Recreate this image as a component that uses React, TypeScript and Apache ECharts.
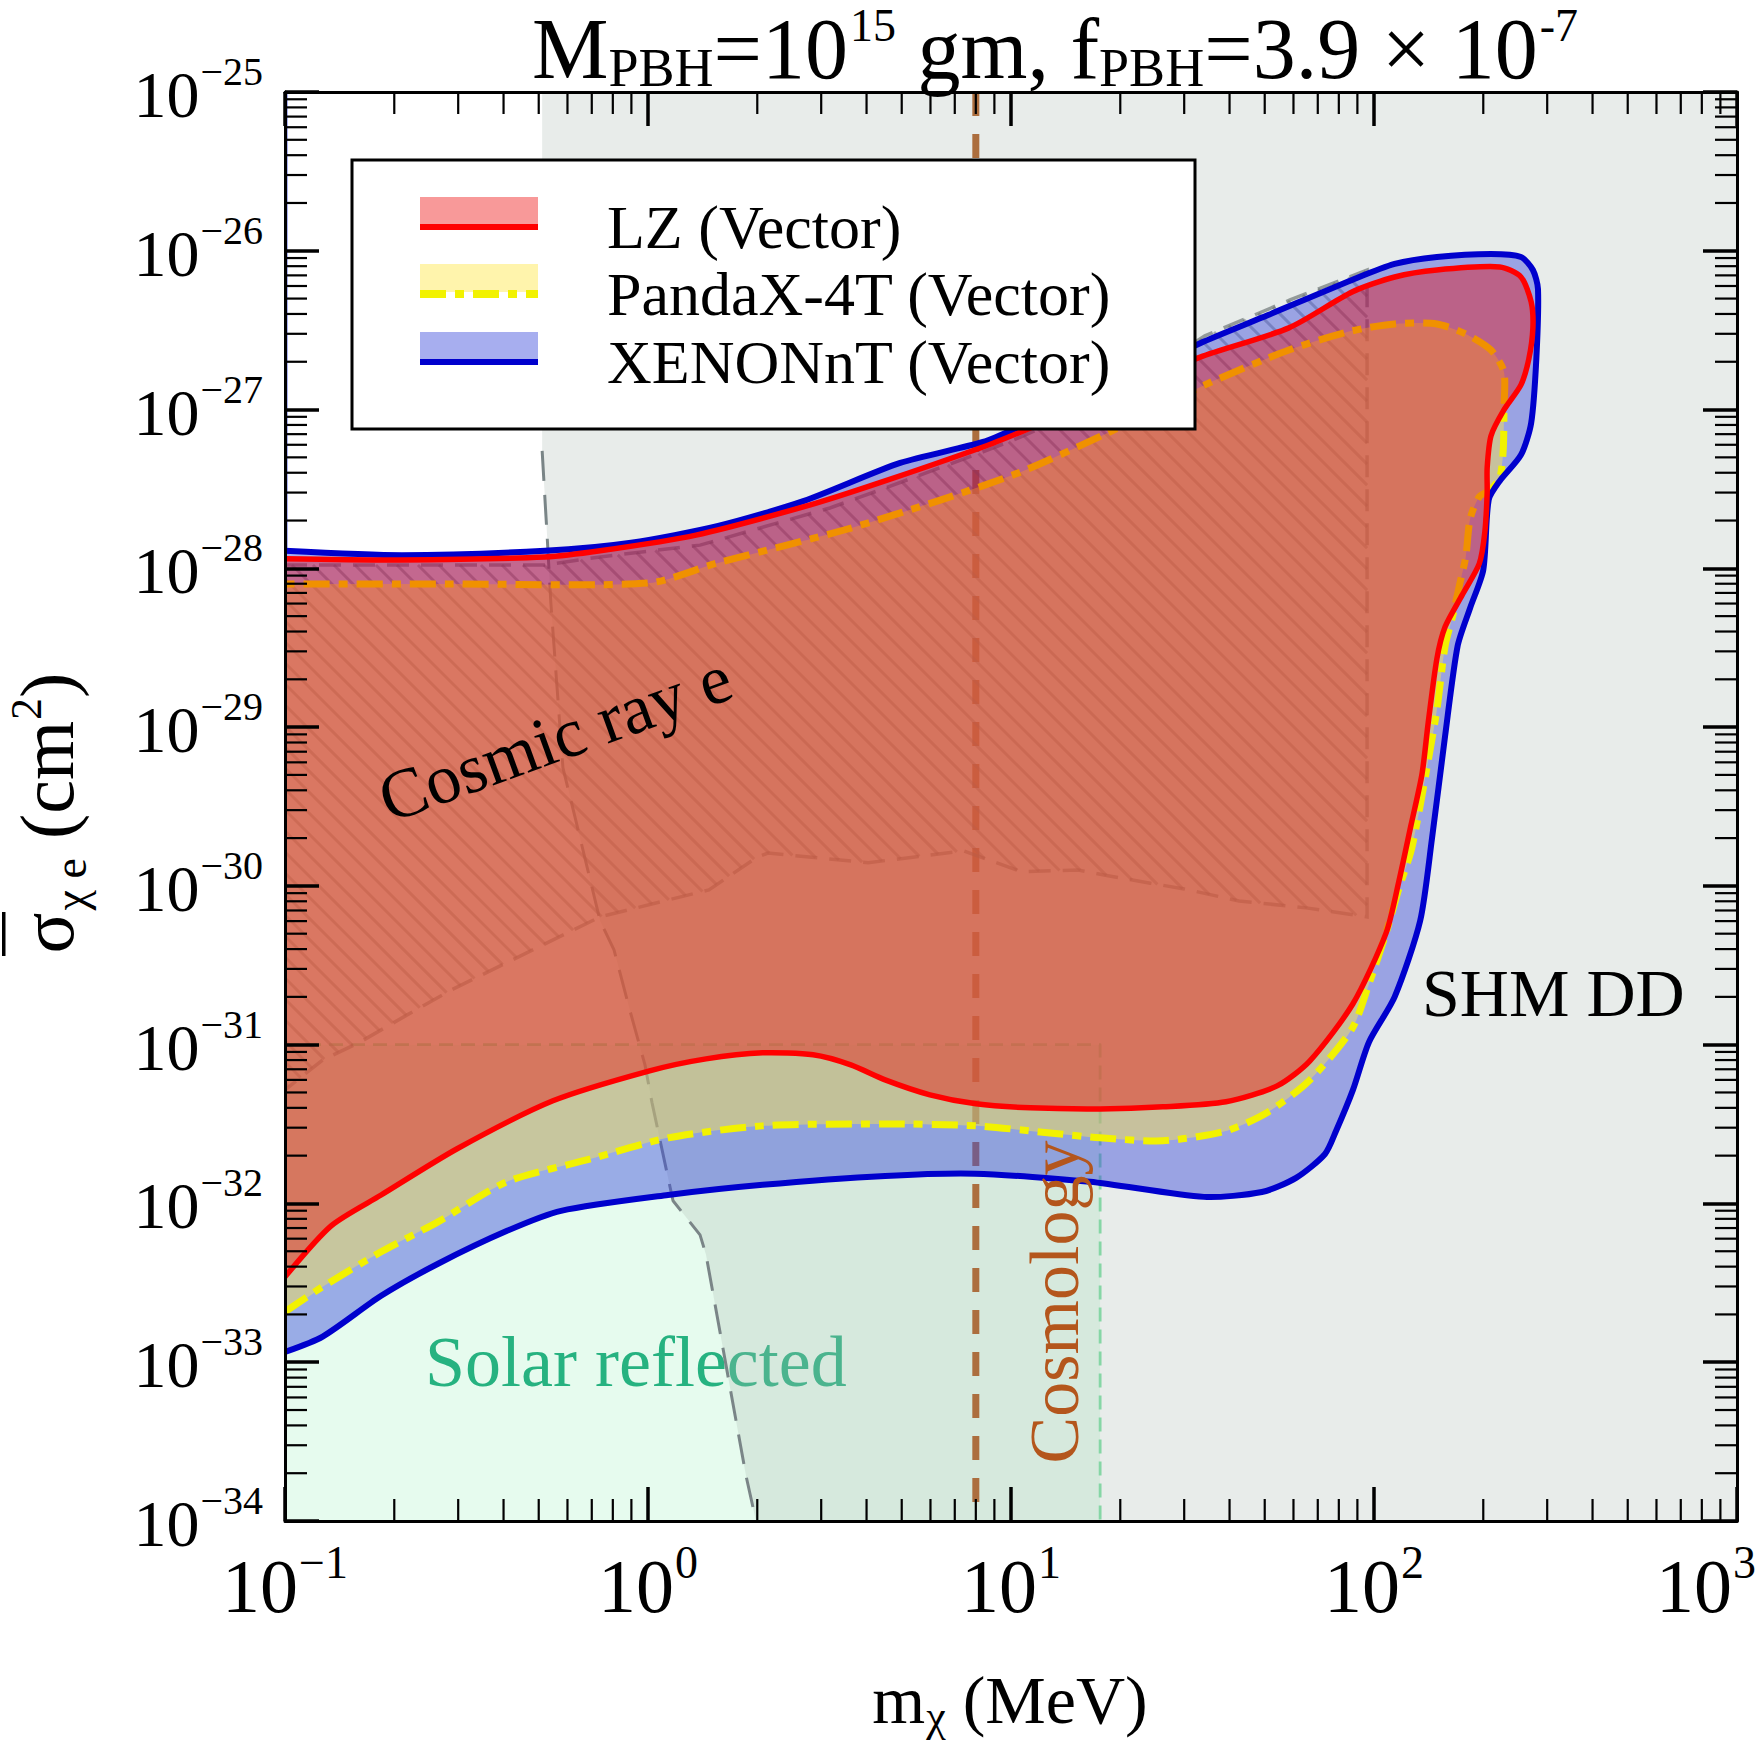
import React, { useEffect, useRef } from 'react';
import * as echarts from 'echarts';

type Pt = [number, number]; // [m_chi in MeV, sigma_e in cm^2]

const FONT = '"Liberation Serif", "Times New Roman", serif';
const NB = '\u00a0';

// Axis decades (log10 of the values) and log minor-tick multipliers
const massDecades = [-1, 0, 1, 2, 3];
const sigmaDecades = [-34, -33, -32, -31, -30, -29, -28, -27, -26, -25];
const minorMultipliers = [2, 3, 4, 5, 6, 7, 8, 9];

// XENONnT (Vector) excluded region boundary
const xenonContour: Pt[] = [
  [0.1, 1.16e-33], [0.127, 1.45e-33], [0.184, 2.62e-33], [0.264, 4.17e-33], [0.409, 6.72e-33],
  [0.576, 8.98e-33], [1.135, 1.13e-32], [2.07, 1.31e-32], [4.5, 1.49e-32], [7.96, 1.54e-32],
  [16.5, 1.37e-32], [34.0, 1.1e-32], [49.1, 1.18e-32], [61.0, 1.45e-32], [73.3, 2.05e-32],
  [78.6, 2.86e-32], [87.5, 5.19e-32], [96.9, 1.04e-31], [114, 2.0e-31], [134, 6.02e-31],
  [144.5, 2.0e-30], [157, 8.8e-30], [170, 3.25e-29], [184, 5.63e-29], [200, 9.77e-29],
  [207, 2.7e-28], [222, 3.55e-28], [254, 5.18e-28], [271, 8.24e-28], [280, 2.08e-27],
  [283, 5.74e-27], [274, 7.57e-27], [254, 9.14e-27], [210, 9.55e-27], [149, 9.14e-27],
  [114, 8.26e-27], [87.0, 6.55e-27], [51.1, 3.94e-27], [33.2, 2.62e-27], [17.6, 1.33e-27],
  [10.65, 7.88e-28], [8.37, 6.25e-28], [4.95, 4.61e-28], [2.69, 2.66e-28], [1.56, 1.85e-28],
  [0.898, 1.45e-28], [0.52, 1.29e-28], [0.21, 1.21e-28], [0.1, 1.29e-28],
];
// thin sliver of the XENONnT region running up the lowest-mass edge
const xenonEdge: Pt[] = [[0.1, 1.29e-28], [0.1019, 1.29e-28], [0.1019, 1e-25], [0.1, 1e-25]];

// LZ (Vector) excluded region boundary
const lzContour: Pt[] = [
  [0.1, 3.45e-33], [0.134, 7.23e-33], [0.184, 1.13e-32], [0.298, 2.21e-32], [0.547, 4.43e-32],
  [1.01, 6.84e-32], [1.445, 8.14e-32], [2.07, 8.88e-32], [2.85, 8.63e-32], [3.62, 7.46e-32],
  [4.5, 6.0e-32], [5.98, 4.83e-32], [8.01, 4.24e-32], [11.3, 4.0e-32], [17.6, 3.94e-32],
  [26.2, 4.06e-32], [39.1, 4.37e-32], [54.1, 5.5e-32], [66.6, 7.91e-32], [87.5, 1.81e-31],
  [108, 5.06e-31], [117, 1.06e-30], [126.5, 2.42e-30], [135.6, 5.07e-30], [141, 1.06e-29],
  [149, 2.69e-29], [157, 4.28e-29], [175, 6.8e-29], [195, 1.07e-28], [202, 1.69e-28],
  [205, 2.99e-28], [205, 4.29e-28], [210, 6.82e-28], [228, 9.94e-28], [254, 1.43e-27],
  [267, 2.08e-27], [274, 3.27e-27], [271, 4.76e-27], [254, 6.84e-27], [222, 7.91e-27],
  [149, 7.57e-27], [114, 6.84e-27], [87.0, 5.5e-27], [58.3, 3.27e-27], [33.2, 2.14e-27],
  [17.6, 1.17e-27], [10.65, 7.23e-28], [8.37, 5.81e-28], [4.33, 3.45e-28], [2.8, 2.51e-28],
  [1.356, 1.62e-28], [0.738, 1.29e-28], [0.52, 1.18e-28], [0.207, 1.13e-28], [0.1, 1.15e-28],
];

// PandaX-4T (Vector) excluded region boundary
const pandaxContour: Pt[] = [
  [0.1, 2.08e-33], [0.127, 2.99e-33], [0.184, 4.96e-33], [0.264, 7.66e-33], [0.409, 1.37e-32],
  [0.697, 1.91e-32], [1.135, 2.59e-32], [2.07, 3.08e-32], [4.5, 3.17e-32], [8.01, 3.08e-32],
  [12.8, 2.78e-32], [17.6, 2.59e-32], [26.2, 2.48e-32], [39.1, 2.86e-32], [51.1, 3.77e-32],
  [66.6, 6.0e-32], [87.0, 1.26e-31], [96.9, 2.42e-31], [108, 5.06e-31], [117, 9.57e-31],
  [126.5, 1.66e-30], [134, 3.19e-30], [141, 6.13e-30], [149, 1.28e-29], [157, 3.25e-29],
  [165, 5.09e-29], [172.5, 8.09e-29], [179, 1.18e-28], [184, 2.05e-28], [195, 2.82e-28],
  [209, 3.12e-28], [222, 3.71e-28], [227, 5.57e-28], [228, 9.94e-28], [228, 1.73e-27],
  [210, 2.37e-27], [179, 2.99e-27], [149, 3.46e-27], [114, 3.46e-27], [87.0, 3.13e-27],
  [58.3, 2.37e-27], [34.2, 1.43e-27], [18.2, 7.02e-28], [10.65, 4.05e-28], [6.54, 2.74e-28],
  [3.49, 1.75e-28], [1.53, 1.07e-28], [1.01, 8.09e-29], [0.285, 7.98e-29], [0.1, 7.98e-29],
];

// Lower-mass edge of the SHM direct-detection region
const shmTopMass = 0.511;
const shmEdge: Pt[] = [
  [0.511, 5.49e-28], [0.53, 1.31e-28], [0.54, 6.05e-29], [0.583, 5.54e-30], [0.637, 2.42e-30],
  [0.738, 6.02e-31], [0.806, 3.95e-31], [0.886, 1.73e-31], [0.981, 7.46e-32], [1.026, 4.3e-32],
  [1.15, 1.27e-32], [1.172, 1.04e-32], [1.391, 6.34e-33], [1.445, 4.75e-33], [1.862, 1.93e-34],
  [1.984, 1e-34],
];

// Cosmic-ray boosted electron bound (hatched region)
const cosmicRayRegion: Pt[] = [
  [0.1, 1.05e-28], [0.52, 1.05e-28], [0.738, 1.18e-28], [1.391, 1.4e-28], [3.17, 2.4e-28],
  [4.36, 3.12e-28], [8.37, 5.41e-28], [10.65, 6.72e-28], [17.6, 1.12e-27], [34.2, 2.91e-27],
  [58.7, 4.9e-27], [95.7, 7.57e-27], [95.7, 6.38e-31], [65.0, 7.27e-31], [42.5, 8.04e-31],
  [30.0, 9.57e-31], [24.2, 1.04e-30], [18.5, 1.16e-30], [15.3, 1.26e-30], [10.65, 1.23e-30],
  [7.42, 1.66e-30], [4.04, 1.4e-30], [2.14, 1.61e-30], [2.0, 1.52e-30], [1.472, 9.44e-31],
  [0.738, 6.38e-31], [0.494, 4.07e-31], [0.287, 2.21e-31], [0.217, 1.54e-31], [0.16, 1.03e-31],
  [0.127, 8.02e-32], [0.1, 5.19e-32],
];

// Solar-reflected DM bound and cosmology bound
const solarMaxMass = 17.6;
const solarMaxSigma = 1e-31;
const cosmologyMass = 8.0;

const massRange: Pt = [0.1, 1000];
const sigmaRange: Pt = [1e-34, 1e-25];

const legendLabels = ['LZ (Vector)', 'PandaX-4T (Vector)', 'XENONnT (Vector)'];

// colours
const BLUE_FILL = 'rgba(60,75,220,0.45)';
const YELLOW_FILL = 'rgba(255,230,70,0.45)';
const RED_FILL = 'rgba(238,0,0,0.4)';
const BLUE_LINE = '#0000cd';
const RED_LINE = '#ff0000';
const YELLOW_LINE = '#f2f200';
const YELLOW_DASH = [26, 9, 9, 9];

const toLog = (p: Pt) => [Math.log10(p[0]), Math.log10(p[1])];
const anchor = [[0, -30]];

// Contours that start and end on the lowest-mass edge are closed just outside
// the plot so that the smoothed outline keeps its shape near that edge.
const closeOffLeft = (pts: Pt[]): Pt[] => [
  ...pts,
  [massRange[0] * 0.8, pts[pts.length - 1][1]],
  [massRange[0] * 0.8, pts[0][1]],
];

function areaSeries(id: string, pts: Pt[], fill: string, z: number, smooth = 0) {
  return {
    type: 'custom', id, coordinateSystem: 'cartesian2d', clip: true, silent: true, z,
    data: anchor,
    renderItem: (_p: any, api: any) => ({
      type: 'polygon',
      shape: { points: pts.map((p) => api.coord(toLog(p))), smooth },
      style: { fill, stroke: 'none' },
    }),
  };
}

function curveSeries(id: string, pts: Pt[], stroke: string, lineWidth: number, z: number,
  smooth = 0, lineDash?: number[]) {
  return {
    type: 'custom', id, coordinateSystem: 'cartesian2d', clip: true, silent: true, z,
    data: anchor,
    renderItem: (_p: any, api: any) => ({
      type: 'polyline',
      shape: { points: pts.map((p) => api.coord(toLog(p))), smooth },
      style: { fill: 'none', stroke, lineWidth, lineDash: lineDash || null, lineJoin: 'round' },
    }),
  };
}

// hatched cosmic-ray region: diagonal lines clipped to the polygon
const hatchSeries = {
  type: 'custom', id: 'cosmicRay', coordinateSystem: 'cartesian2d', clip: true, silent: true, z: 5,
  data: anchor,
  renderItem: (_p: any, api: any) => {
    const poly: number[][] = cosmicRayRegion.map((p) => api.coord(toLog(p)));
    const step = 21;
    const cs = poly.map(([x, y]) => y - x);
    const cMin = Math.min(...cs);
    const cMax = Math.max(...cs);
    const children: any[] = [];
    for (let c = Math.ceil(cMin / step) * step; c <= cMax; c += step) {
      const xs: number[] = [];
      for (let i = 0; i < poly.length; i++) {
        const [x1, y1] = poly[i];
        const [x2, y2] = poly[(i + 1) % poly.length];
        const f1 = y1 - x1 - c;
        const f2 = y2 - x2 - c;
        if ((f1 < 0) !== (f2 < 0)) {
          const t = f1 / (f1 - f2);
          xs.push(x1 + t * (x2 - x1));
        }
      }
      xs.sort((a, b) => a - b);
      for (let k = 0; k + 1 < xs.length; k += 2) {
        children.push({
          type: 'line',
          shape: { x1: xs[k], y1: xs[k] + c, x2: xs[k + 1], y2: xs[k + 1] + c },
          style: { stroke: 'rgba(90,100,100,0.45)', lineWidth: 3 },
        });
      }
    }
    children.push({
      type: 'polygon',
      shape: { points: poly },
      style: { fill: 'none', stroke: 'rgba(90,100,100,0.6)', lineWidth: 3.5, lineDash: [22, 12] },
    });
    return { type: 'group', children };
  },
};

// log-spaced minor ticks on all four sides of the frame
const MINOR_LEN = 22;
const minorTickSeries = {
  type: 'custom', id: 'minorTicks', coordinateSystem: 'cartesian2d', clip: false, silent: true, z: 30,
  data: anchor,
  renderItem: (_p: any, api: any) => {
    const children: any[] = [];
    const st = { stroke: '#000', lineWidth: 2.2 };
    const [xL, yB] = api.coord([massDecades[0], sigmaDecades[0]]);
    const [xR, yT] = api.coord([massDecades[massDecades.length - 1], sigmaDecades[sigmaDecades.length - 1]]);
    massDecades.slice(0, -1).forEach((d) => {
      minorMultipliers.forEach((k) => {
        const x = api.coord([d + Math.log10(k), sigmaDecades[0]])[0];
        children.push({ type: 'line', shape: { x1: x, y1: yB, x2: x, y2: yB - MINOR_LEN }, style: st });
        children.push({ type: 'line', shape: { x1: x, y1: yT, x2: x, y2: yT + MINOR_LEN }, style: st });
      });
    });
    sigmaDecades.slice(0, -1).forEach((d) => {
      minorMultipliers.forEach((k) => {
        const y = api.coord([massDecades[0], d + Math.log10(k)])[1];
        children.push({ type: 'line', shape: { x1: xL, y1: y, x2: xL + MINOR_LEN, y2: y }, style: st });
        children.push({ type: 'line', shape: { x1: xR, y1: y, x2: xR - MINOR_LEN, y2: y }, style: st });
      });
    });
    return { type: 'group', children };
  },
};

const expText = (v: number) => (v < 0 ? '\u2212' + Math.abs(Math.round(v)) : String(Math.round(v)));

const axisCommon = {
  type: 'value',
  interval: 1,
  z: 30,
  axisLine: { show: true, onZero: false, lineStyle: { color: '#000', width: 3 } },
  axisTick: { show: true, inside: true, length: 34, lineStyle: { color: '#000', width: 3.5 } },
  splitLine: { show: false },
};

const smoothC = 0.25;

const solarRect: Pt[] = [
  [massRange[0], sigmaRange[0]], [solarMaxMass, sigmaRange[0]],
  [solarMaxMass, solarMaxSigma], [massRange[0], solarMaxSigma],
];
const solarEdge: Pt[] = [[massRange[0], solarMaxSigma], [solarMaxMass, solarMaxSigma], [solarMaxMass, sigmaRange[0]]];
const shmRegion: Pt[] = [
  [shmTopMass, sigmaRange[1]], ...shmEdge, [massRange[1], sigmaRange[0]], [massRange[1], sigmaRange[1]],
];
const cosmologyLine: Pt[] = [[cosmologyMass, sigmaRange[1]], [cosmologyMass, sigmaRange[0]]];

const txt = (fontSize: number, fill: string, extra: any = {}) => ({
  fontSize, fontFamily: FONT, fill, color: fill, ...extra,
});

const legendRows = [
  { fill: RED_FILL, line: RED_LINE, width: 6, dash: null as number[] | null, top: 197 },
  { fill: YELLOW_FILL, line: YELLOW_LINE, width: 8, dash: YELLOW_DASH, top: 264 },
  { fill: BLUE_FILL, line: BLUE_LINE, width: 6, dash: null as number[] | null, top: 332 },
];

const legendGraphics: any[] = [
  { type: 'rect', z: 40, shape: { x: 352, y: 160, width: 843, height: 269 },
    style: { fill: '#fff', stroke: '#000', lineWidth: 3 } },
];
legendRows.forEach((r, i) => {
  legendGraphics.push({ type: 'rect', z: 41, shape: { x: 420, y: r.top, width: 118, height: 28 }, style: { fill: r.fill } });
  legendGraphics.push({ type: 'line', z: 42, shape: { x1: 420, y1: r.top + 30, x2: 538, y2: r.top + 30 },
    style: { stroke: r.line, lineWidth: r.width, lineDash: r.dash } });
  legendGraphics.push({ type: 'text', z: 42, x: 607, y: r.top + 29.5,
    style: { text: legendLabels[i], ...txt(62, '#000'), align: 'left', verticalAlign: 'middle' } });
});

const lastMassDecade = massDecades[massDecades.length - 1];

const option: any = {
  animation: false,
  backgroundColor: '#fff',
  grid: { left: 285, top: 92, width: 1452, height: 1429, containLabel: false, outerBoundsMode: 'none' },
  xAxis: [
    {
      ...axisCommon, position: 'bottom', min: massDecades[0], max: lastMassDecade,
      axisLabel: {
        show: true, margin: 18,
        // the last label is nudged left so that it stays on the page
        formatter: (v: number) =>
          Math.round(v) === lastMassDecade ? `{b|10}{e|${expText(v)}}` : `{b|10}{s|${expText(v)}}`,
        rich: {
          b: { ...txt(76, '#000'), height: 76, verticalAlign: 'top', padding: [9, 0, 0, 0] },
          s: { ...txt(46, '#000'), height: 46, verticalAlign: 'top', padding: [0, 0, 0, 1] },
          e: { ...txt(46, '#000'), height: 46, verticalAlign: 'top', padding: [0, 62, 0, 1] },
        },
      },
    },
    {
      ...axisCommon, position: 'top', min: massDecades[0], max: lastMassDecade,
      axisLabel: { show: false },
    },
  ],
  yAxis: [
    {
      ...axisCommon, position: 'left', min: sigmaDecades[0], max: sigmaDecades[sigmaDecades.length - 1],
      axisLabel: {
        show: true, margin: 22,
        formatter: (v: number) => `{b|10}{s|${expText(v)}}`,
        rich: {
          b: { ...txt(66, '#000'), height: 66, verticalAlign: 'top', padding: [10, 0, 5, 0] },
          s: { ...txt(40, '#000'), height: 40, verticalAlign: 'top', padding: [0, 0, 0, 1] },
        },
      },
    },
    {
      ...axisCommon, position: 'right', min: sigmaDecades[0], max: sigmaDecades[sigmaDecades.length - 1],
      axisLabel: { show: false },
    },
  ],
  series: [
    areaSeries('solarFill', solarRect, '#e6fbee', 1),
    curveSeries('solarEdge', solarEdge, 'rgb(120,225,160)', 2.8, 1.5, 0, [14, 8]),
    areaSeries('shmFill', shmRegion, 'rgba(172,186,179,0.28)', 3),
    curveSeries('shmEdge', shmEdge, '#7a8587', 3, 3.5, 0, [30, 14]),
    curveSeries('cosmology', cosmologyLine, '#ac6e3e', 7, 4, 0, [24, 18]),
    hatchSeries,
    areaSeries('xenonFill', closeOffLeft(xenonContour), BLUE_FILL, 6, smoothC),
    areaSeries('xenonEdgeFill', xenonEdge, BLUE_FILL, 6),
    areaSeries('pandaxFill', closeOffLeft(pandaxContour), YELLOW_FILL, 7, smoothC),
    curveSeries('pandaxLine', pandaxContour, YELLOW_LINE, 7, 8, smoothC, YELLOW_DASH),
    areaSeries('lzFill', closeOffLeft(lzContour), RED_FILL, 9, smoothC),
    curveSeries('xenonLine', xenonContour, BLUE_LINE, 6, 10, smoothC),
    curveSeries('lzLine', lzContour, RED_LINE, 5.5, 11, smoothC),
    minorTickSeries,
  ],
  graphic: [
    // title
    {
      type: 'text', z: 40, x: 1055, y: 2.5,
      style: {
        text: `{m|M}{sub|PBH}{m|=10}{sup|15}{m|${NB}gm,${NB}f}{sub|PBH}{m|=3.9${NB}×${NB}10}{sup|-7}`,
        align: 'center', verticalAlign: 'top',
        rich: {
          m: { ...txt(86, '#000'), height: 86, verticalAlign: 'top', padding: [3.5, 0, 0, 0] },
          sub: { ...txt(54, '#000'), height: 54, verticalAlign: 'top', padding: [38.3, 0, 0, 0] },
          sup: { ...txt(46, '#000'), height: 46, verticalAlign: 'top', padding: [0, 0, 0, 2] },
        },
      },
    },
    // y-axis title
    {
      type: 'text', z: 40, x: 0, y: 813, rotation: Math.PI / 2,
      style: {
        text: `{n|σ}{sub|χ${NB}e}{n|${NB}(cm}{sup|2}{n|)}`,
        align: 'center', verticalAlign: 'top',
        rich: {
          n: { ...txt(76, '#000'), height: 76, verticalAlign: 'top', padding: [9.4, 0, 0, 0] },
          sub: { ...txt(46, '#000'), height: 46, verticalAlign: 'top', padding: [47.4, 0, 0, 2] },
          sup: { ...txt(44, '#000'), height: 44, verticalAlign: 'top', padding: [4, 0, 0, 1] },
        },
      },
    },
    { type: 'rect', z: 40, shape: { x: 2, y: 912, width: 3.5, height: 44 }, style: { fill: '#000' } },
    // x-axis title
    {
      type: 'text', z: 40, x: 1010, y: 1666,
      style: {
        text: `{m|m}{sub|χ}{m|${NB}(MeV)}`,
        align: 'center', verticalAlign: 'top',
        rich: {
          m: { ...txt(68, '#000'), height: 68, verticalAlign: 'top', padding: [0, 0, 0, 0] },
          sub: { ...txt(44, '#000'), height: 44, verticalAlign: 'top', padding: [28, 0, 0, 1] },
        },
      },
    },
    // region labels
    {
      type: 'text', z: 2, x: 425, y: 1362,
      style: { text: 'Solar reflected', ...txt(72, '#26b280'), align: 'left', verticalAlign: 'middle' },
    },
    {
      type: 'text', z: 20, x: 1422, y: 993,
      style: { text: 'SHM DD', ...txt(68, '#000'), align: 'left', verticalAlign: 'middle' },
    },
    {
      type: 'text', z: 20, x: 555, y: 738, rotation: 0.349,
      style: { text: 'Cosmic ray e', ...txt(70, '#000'), align: 'center', verticalAlign: 'middle' },
    },
    {
      type: 'text', z: 20, x: 1054, y: 1302, rotation: Math.PI / 2,
      style: { text: 'Cosmology', ...txt(70, '#b4561c'), align: 'center', verticalAlign: 'middle' },
    },
    ...legendGraphics,
  ],
};

export default function App() {
  const ref = useRef<HTMLDivElement>(null);
  useEffect(() => {
    const chart = echarts.init(ref.current!, null, { renderer: 'svg' });
    chart.setOption(option);
    return () => chart.dispose();
  }, []);
  return (
    <div
      ref={ref}
      style={{ position: 'fixed', left: 0, top: 0, width: 1760, height: 1745, background: '#fff' }}
    />
  );
}
